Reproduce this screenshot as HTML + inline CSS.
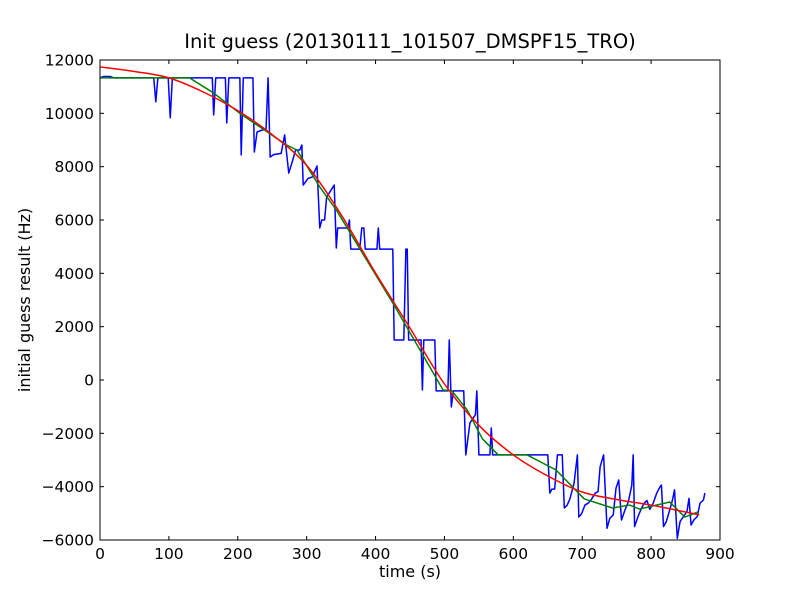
<!DOCTYPE html>
<html><head><meta charset="utf-8"><style>
body{margin:0;background:#fff;}
svg{display:block;font-family:"DejaVu Sans","Liberation Sans",sans-serif;}
</style></head><body>
<svg id="chart" width="800" height="600" viewBox="0 0 800 600">
<rect x="0" y="0" width="800" height="600" fill="#fff"/>
<text x="410" y="48" font-size="19.5" text-anchor="middle">Init guess (20130111_101507_DMSPF15_TRO)</text>
<g id="plot"></g>
<g id="axes"></g>
<text x="410" y="577" font-size="16" text-anchor="middle">time (s)</text>
<text x="30" y="300" font-size="16" text-anchor="middle" transform="rotate(-90 30 300)">initial guess result (Hz)</text>
</svg>
<script>
const xTicks=[0,100,200,300,400,500,600,700,800,900];
const yTicks=[-6000,-4000,-2000,0,2000,4000,6000,8000,10000,12000];
const blueT=[0,5,15,20,78,81,84,99,102,105,163,165,168,182,184,187,203,205,208,222,224,228,235,241,244,247,252,263,268,274,279,284,290,293,295,302,308,315,319,322,326,329,340,343,345,360,362,364,377,380,383,385,402,404,406,425,427,441,444,446,448,466,468,470,486,488,505,507,510,513,528,531,537,545,547,550,566,568,570,650,653,656,660,664,671,674,678,682,688,693,695,699,704,709,714,719,723,726,731,736,740,745,749,753,757,762,767,772,774,776,781,786,790,794,798,803,808,813,815,818,822,827,831,834,838,842,847,852,855,858,862,867,871,876,878];
const blueV=[11330,11380,11380,11330,11330,10430,11330,11330,9830,11330,11330,9940,11330,11330,9640,11330,11330,8440,11330,11330,8550,9300,9370,9400,11330,8360,8450,8500,9190,7760,8175,8625,8625,8810,7310,7560,7610,8025,5700,6000,6000,6860,7310,4950,5700,5700,6000,4910,4910,5700,5700,4910,4910,5700,4910,4910,1500,1500,4910,4910,1500,1500,-375,1500,1500,-410,-410,1500,-1010,-410,-410,-2810,-1610,-1300,-410,-2810,-2810,-1800,-2810,-2810,-4240,-4090,-4090,-2810,-2810,-4800,-4700,-4470,-3890,-2810,-5140,-5020,-4690,-4610,-4450,-4240,-4190,-3250,-2810,-5560,-5190,-5060,-4060,-3750,-5250,-4880,-4560,-3940,-2810,-5500,-5120,-4810,-4620,-4520,-4850,-4620,-4250,-4000,-3940,-5500,-5310,-4875,-4500,-4120,-5940,-5310,-5120,-4940,-4440,-5440,-5250,-5120,-4620,-4500,-4240];
const greenT=[0,130,165,203,243,271,286,319,343,425,498,511,533,555,578,620,662,703,744,769,783,827,849,868];
const greenV=[11330,11330,10760,10000,9300,8810,8620,7240,6375,2890,-375,-410,-1125,-2200,-2810,-2810,-3375,-4460,-4800,-4690,-4840,-4575,-5140,-4950];
const redT=[0,50,100,150,200,250,300,350,400,450,500,550,600,650,700,750,800,850,870];
const redV=[11740,11570,11330,10800,10100,9200,8050,6200,4010,1950,-150,-1700,-2810,-3600,-4200,-4480,-4690,-4950,-5060];
const X0=100,X1=720,Y0=540,Y1=60;
function sx(t){return X0+(t-0)/(900-0)*(X1-X0);}
function sy(v){return Y0-(v-(-6000))/(12000-(-6000))*(Y0-Y1);}
const NS="http://www.w3.org/2000/svg";
const plot=document.getElementById('plot'),axes=document.getElementById('axes');
function mk(tag,attrs,parent){const e=document.createElementNS(NS,tag);for(const k in attrs)e.setAttribute(k,attrs[k]);parent.appendChild(e);return e;}
function line(ts,vs,color,name){
  const d=ts.map((t,i)=>(i?'L':'M')+sx(t).toFixed(2)+' '+sy(vs[i]).toFixed(2)).join(' ');
  const p=mk('path',{d:d,fill:'none',stroke:color,'stroke-width':1.5,'stroke-linejoin':'round'},plot);
  
  
}
function smooth(ts,vs,color,name){
  const pts=ts.map((t,i)=>[sx(t),sy(vs[i])]);
  let d='M'+pts[0][0]+' '+pts[0][1];
  for(let i=0;i<pts.length-1;i++){
    const p0=pts[Math.max(0,i-1)],p1=pts[i],p2=pts[i+1],p3=pts[Math.min(pts.length-1,i+2)];
    const c1=[p1[0]+(p2[0]-p0[0])/6,p1[1]+(p2[1]-p0[1])/6];
    const c2=[p2[0]-(p3[0]-p1[0])/6,p2[1]-(p3[1]-p1[1])/6];
    d+=' C'+c1.join(' ')+' '+c2.join(' ')+' '+p2.join(' ');
  }
  const p=mk('path',{d:d,fill:'none',stroke:color,'stroke-width':1.5},plot);
  
  
}
line(blueT,blueV,'#0000ff','blue-raw-series');
line(greenT,greenV,'#008000','green-smoothed-series');
smooth(redT,redV,'#ff0000','red-fit-curve');
const frame=mk('rect',{x:X0,y:Y1,width:X1-X0,height:Y0-Y1,fill:'none',stroke:'#000','stroke-width':1},axes);


xTicks.forEach(t=>{
  const x=sx(t);
  mk('line',{x1:x,y1:Y0,x2:x,y2:Y0-4,stroke:'#000'},axes);
  mk('line',{x1:x,y1:Y1,x2:x,y2:Y1+4,stroke:'#000'},axes);
  const tx=mk('text',{x:x,y:Y0+19,'font-size':15.5,'text-anchor':'middle'},axes);
  tx.textContent=t;
  
  
});
yTicks.forEach(v=>{
  const y=sy(v);
  mk('line',{x1:X0,y1:y,x2:X0+4,y2:y,stroke:'#000'},axes);
  mk('line',{x1:X1,y1:y,x2:X1-4,y2:y,stroke:'#000'},axes);
  const tx=mk('text',{x:X0-6,y:y+5.5,'font-size':15.5,'text-anchor':'end'},axes);
  tx.textContent=v==0?'0':(v<0?'\u2212'+(-v):v);
  
  
});
</script>
</body></html>
